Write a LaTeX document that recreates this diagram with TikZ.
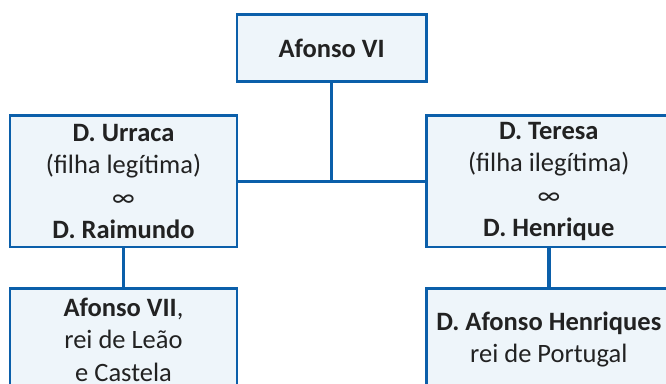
\documentclass[tikz,border=0pt]{standalone}
\usepackage{fontspec}
\setmainfont{Carlito}
\definecolor{boxblue}{HTML}{0B5FAA}
\definecolor{boxfill}{HTML}{EEF5FA}
\definecolor{txt}{HTML}{222222}
\begin{document}
\begin{tikzpicture}[x=1pt,y=-1pt,
  box/.style={draw=boxblue, line width=2.6pt, fill=boxfill, text=txt, align=center,
    inner sep=0pt, font=\fontsize{26.5}{32.5}\selectfont, anchor=north west},
  link/.style={draw=boxblue, line width=3.6pt}]
\useasboundingbox (0,0) rectangle (666,383);
\clip (0,0) rectangle (666,383);
\node[box, minimum width=189.3pt, minimum height=66.7pt] (top) at (235.7,13.3) {\textbf{Afonso VI}};
\node[box, minimum width=227pt, minimum height=131.4pt] (left) at (8.7,114.3)
  {\textbf{D. Urraca}\\(filha legítima)\\∞\\\textbf{D. Raimundo}};
\node[box, minimum width=227pt, minimum height=131.4pt, minimum width=245pt] (right) at (425,114.3)
  {\textbf{D. Teresa}\\(filha ilegítima)\\∞\\\textbf{D. Henrique}};
\node[box, minimum width=227pt, minimum height=102pt] (bl) at (8.7,287.3)
  {\textbf{Afonso VII},\\rei de Leão\\e Castela};
\node[box, minimum width=245pt, minimum height=102pt] (br) at (425,287.3)
  {\textbf{D. Afonso Henriques}\\rei de Portugal};
\coordinate (j) at (top.south |- left.east);
\draw[link] (top.south) -- (j);
\draw[link] (left.east) -- (right.west);
\draw[link] (left.south) -- (bl.north);
\draw[link] (right.south) -- (br.north);
\end{tikzpicture}
\end{document}
